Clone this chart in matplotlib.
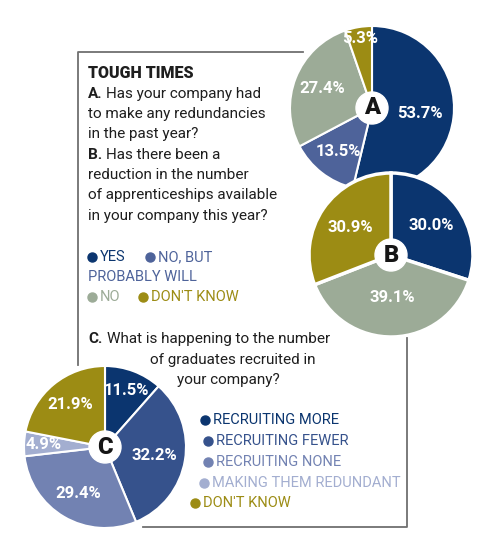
import numpy as np
import matplotlib.pyplot as plt

# survey answers (percent)
a_vals = [53.7, 13.5, 27.4, 5.3]
b_vals = [30.0, 39.1, 30.9]
c_vals = [11.5, 32.2, 29.4, 4.9, 21.9]

ab_legend = ['YES', 'NO, BUT\nPROBABLY WILL', 'NO', "DON'T KNOW"]
c_legend = ['RECRUITING MORE', 'RECRUITING FEWER', 'RECRUITING NONE',
            'MAKING THEM REDUNDANT', "DON'T KNOW"]

NAVY = '#0b356f'
BLUE = '#4e639a'
GREY = '#9cab97'
OLIVE = '#9c8c14'
C_FEWER = '#36528c'
C_NONE = '#7282b2'
C_RED = '#a3aed0'
LINE = '#707070'

W, H = 500, 558
FONT = 'Roboto'


def Y(y):
    # pixel row -> data y (y up)
    return H - y


def draw_pie(ax, vals, colors, cx, cy, r, letter, fracs, edge=1.5):
    ax.pie(vals, colors=colors, startangle=90, counterclock=False,
           radius=r, center=(cx, Y(cy)),
           wedgeprops=dict(edgecolor='white', linewidth=edge))
    total = sum(vals)
    cum = np.cumsum(vals) - np.array(vals) / 2
    for v, c, f in zip(vals, cum, fracs):
        th = np.radians(90 - 360 * c / total)
        ax.text(cx + f * r * np.cos(th), Y(cy) + f * r * np.sin(th),
                '{:.1f}%'.format(v), color='white', fontsize=12,
                fontweight='bold', family=FONT, ha='center', va='center')
    ax.add_patch(plt.Circle((cx, Y(cy)), 16, color='white', zorder=5))
    ax.text(cx, Y(cy), letter, fontsize=17, fontweight='black', family=FONT,
            color='#151515', ha='center', va='center', zorder=6)


def main():
    fig = plt.figure(figsize=(5, 5.58), dpi=100)
    ax = fig.add_axes([0, 0, 1, 1])

    # box outline
    ax.plot([303, 78, 78], [Y(52), Y(52), Y(365)], color=LINE, lw=1.3)
    ax.plot([407, 407, 143], [Y(338), Y(527), Y(527)], color=LINE, lw=1.3)

    draw_pie(ax, a_vals, [NAVY, BLUE, GREY, OLIVE], 372, 108, 82, 'A',
             [0.59, 0.67, 0.65, 0.86])
    draw_pie(ax, b_vals, [NAVY, GREY, OLIVE], 391, 255, 82, 'B',
             [0.61, 0.52, 0.60], edge=2.5)
    draw_pie(ax, c_vals, [NAVY, C_FEWER, C_NONE, C_RED, OLIVE], 105, 447, 81,
             'C', [0.75, 0.62, 0.66, 0.76, 0.68])

    body = dict(fontsize=11, family=FONT, color='#1e1e1e', va='center')
    ax.text(88, Y(73), 'TOUGH TIMES', fontweight='black',
            **{**body, 'fontsize': 11.5})
    ax.text(88, Y(94), 'A.', fontweight='bold', **body)
    ax.text(106, Y(94), 'Has your company had', **body)
    ax.text(88, Y(114), 'to make any redundancies', **body)
    ax.text(88, Y(134), 'in the past year?', **body)
    ax.text(88, Y(155), 'B.', fontweight='bold', **body)
    ax.text(106, Y(155), 'Has there been a', **body)
    ax.text(88, Y(175), 'reduction in the number', **body)
    ax.text(88, Y(195), 'of apprenticeships available', **body)
    ax.text(88, Y(216), 'in your company this year?', **body)

    ax.text(88, Y(339), 'C.', fontweight='bold', **body)
    ax.text(107, Y(339), 'What is happening to the number', **body)
    ax.text(150, Y(360), 'of graduates recruited in', **body)
    ax.text(177, Y(380), 'your company?', **body)

    # legend A/B
    leg = dict(fontsize=10.5, family=FONT, va='center')
    ab_cols = [NAVY, BLUE, GREY, OLIVE]
    ab_pos = [(92, 257), (150, 257), (92, 297), (143, 297)]
    for txt, col, (x, y) in zip(ab_legend, ab_cols, ab_pos):
        ax.plot(x, Y(y), 'o', color=col, ms=6.5)
        if '\n' in txt:
            first, second = txt.split('\n')
            ax.text(x + 8, Y(y), first, color=col, **leg)
            ax.text(88, Y(y + 20), second, color=col, **leg)
        else:
            ax.text(x + 8, Y(y), txt, color=col, **leg)

    # legend C
    c_cols = [NAVY, C_FEWER, C_NONE, C_RED, OLIVE]
    c_x = [205, 208, 208, 204, 195]
    c_y = [420, 441, 462, 483, 503]
    for txt, col, x, y in zip(c_legend, c_cols, c_x, c_y):
        ax.plot(x, Y(y), 'o', color=col, ms=6.5)
        ax.text(x + 8, Y(y), txt, color=col, **leg)

    ax.set_xlim(0, W)
    ax.set_ylim(0, H)
    ax.set_aspect('equal')
    ax.axis('off')
    fig.savefig('out.png', dpi=100)


if __name__ == '__main__':
    main()
